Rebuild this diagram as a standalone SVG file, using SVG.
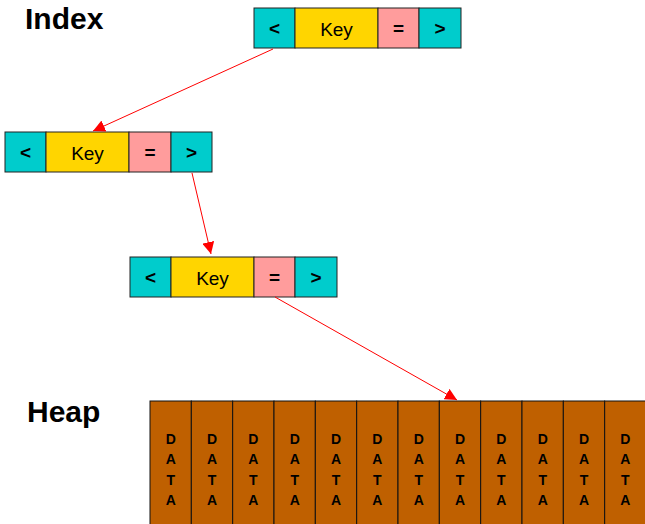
<svg xmlns="http://www.w3.org/2000/svg" width="645" height="524" viewBox="0 0 645 524">
<style>
.c{fill:#00CCCC;stroke:#222;stroke-width:1}
.k{fill:#FFD500;stroke:#222;stroke-width:1}
.e{fill:#FF9C9C;stroke:#222;stroke-width:1}
.s{font-family:"Liberation Sans",Arial,sans-serif;font-weight:bold;font-size:19px;text-anchor:middle}
.t{font-family:"Liberation Sans",Arial,sans-serif;font-size:19px;text-anchor:middle}
.h{font-family:"Liberation Sans",Arial,sans-serif;font-weight:bold;font-size:30px}
.d{fill:#BF6000;stroke:#111;stroke-width:1}
.dt{font-family:"Liberation Sans",Arial,sans-serif;font-weight:bold;font-size:14px;text-anchor:middle}
.a{stroke:#FF0000;stroke-width:1;fill:none;marker-end:url(#ar)}
</style>
<defs>
<marker id="ar" viewBox="0 0 10 10" refX="10" refY="5" markerWidth="12" markerHeight="12" markerUnits="userSpaceOnUse" orient="auto">
<path d="M0,0 L10,5 L0,10 Z" fill="#FF0000"/>
</marker>
</defs>
<text class="h" x="25" y="29">Index</text>
<text class="h" x="27" y="422">Heap</text>
<g id="node1">
<rect class="c" x="254" y="8" width="41" height="40"/>
<rect class="k" x="295" y="8" width="83" height="40"/>
<rect class="e" x="378" y="8" width="41" height="40"/>
<rect class="c" x="419" y="8" width="42" height="40"/>
<text class="s" x="274.5" y="35">&lt;</text>
<text class="t" x="336.5" y="35.5">Key</text>
<text class="s" x="398.5" y="35">=</text>
<text class="s" x="440" y="35">&gt;</text>
</g>
<g id="node2">
<rect class="c" x="5" y="132" width="41" height="40"/>
<rect class="k" x="46" y="132" width="83" height="40"/>
<rect class="e" x="129" y="132" width="42" height="40"/>
<rect class="c" x="171" y="132" width="41" height="40"/>
<text class="s" x="25.5" y="159">&lt;</text>
<text class="t" x="87.5" y="159.5">Key</text>
<text class="s" x="150" y="159">=</text>
<text class="s" x="191.5" y="159">&gt;</text>
</g>
<g id="node3">
<rect class="c" x="130" y="257" width="41" height="40"/>
<rect class="k" x="171" y="257" width="83" height="40"/>
<rect class="e" x="254" y="257" width="41" height="40"/>
<rect class="c" x="295" y="257" width="42" height="40"/>
<text class="s" x="150.5" y="284">&lt;</text>
<text class="t" x="212.5" y="284.5">Key</text>
<text class="s" x="274.5" y="284">=</text>
<text class="s" x="316" y="284">&gt;</text>
</g>
<g id="heap">
<rect class="d" x="150" y="401" width="41.33" height="130"/>
<rect class="d" x="191.33" y="401" width="41.33" height="130"/>
<rect class="d" x="232.67" y="401" width="41.33" height="130"/>
<rect class="d" x="274" y="401" width="41.33" height="130"/>
<rect class="d" x="315.33" y="401" width="41.33" height="130"/>
<rect class="d" x="356.67" y="401" width="41.33" height="130"/>
<rect class="d" x="398" y="401" width="41.33" height="130"/>
<rect class="d" x="439.33" y="401" width="41.33" height="130"/>
<rect class="d" x="480.67" y="401" width="41.33" height="130"/>
<rect class="d" x="522" y="401" width="41.33" height="130"/>
<rect class="d" x="563.33" y="401" width="41.33" height="130"/>
<rect class="d" x="604.67" y="401" width="41.33" height="130"/>
<g class="dt">
<text x="170.7" y="443.5">D</text><text x="170.7" y="464">A</text><text x="170.7" y="484.5">T</text><text x="170.7" y="505">A</text>
<text x="212" y="443.5">D</text><text x="212" y="464">A</text><text x="212" y="484.5">T</text><text x="212" y="505">A</text>
<text x="253.3" y="443.5">D</text><text x="253.3" y="464">A</text><text x="253.3" y="484.5">T</text><text x="253.3" y="505">A</text>
<text x="294.7" y="443.5">D</text><text x="294.7" y="464">A</text><text x="294.7" y="484.5">T</text><text x="294.7" y="505">A</text>
<text x="336" y="443.5">D</text><text x="336" y="464">A</text><text x="336" y="484.5">T</text><text x="336" y="505">A</text>
<text x="377.3" y="443.5">D</text><text x="377.3" y="464">A</text><text x="377.3" y="484.5">T</text><text x="377.3" y="505">A</text>
<text x="418.7" y="443.5">D</text><text x="418.7" y="464">A</text><text x="418.7" y="484.5">T</text><text x="418.7" y="505">A</text>
<text x="460" y="443.5">D</text><text x="460" y="464">A</text><text x="460" y="484.5">T</text><text x="460" y="505">A</text>
<text x="501.3" y="443.5">D</text><text x="501.3" y="464">A</text><text x="501.3" y="484.5">T</text><text x="501.3" y="505">A</text>
<text x="542.7" y="443.5">D</text><text x="542.7" y="464">A</text><text x="542.7" y="484.5">T</text><text x="542.7" y="505">A</text>
<text x="584" y="443.5">D</text><text x="584" y="464">A</text><text x="584" y="484.5">T</text><text x="584" y="505">A</text>
<text x="625.3" y="443.5">D</text><text x="625.3" y="464">A</text><text x="625.3" y="484.5">T</text><text x="625.3" y="505">A</text>
</g>
</g>
<g id="connectors">
<path class="a" d="M273,49 L93,131"/>
<path class="a" d="M192,173 L211,254"/>
<path class="a" d="M275,297 L457,400"/>
</g>
</svg>
